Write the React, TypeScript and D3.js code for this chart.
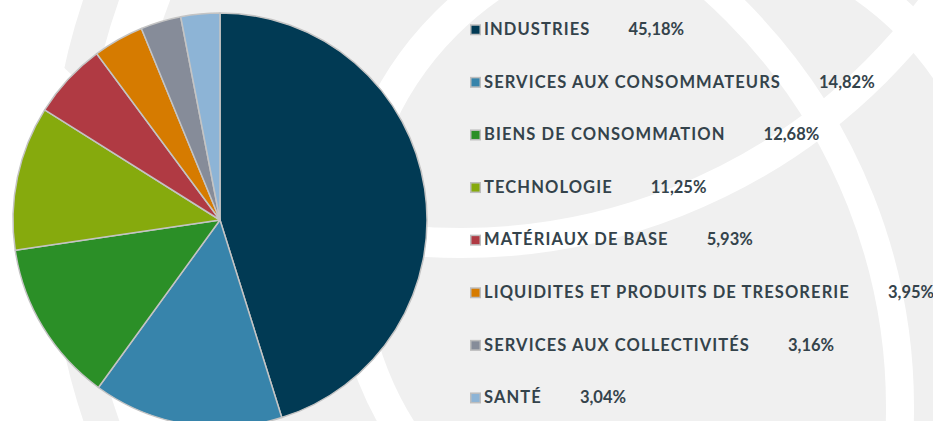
import { useEffect, useRef } from 'react';
import * as d3 from 'd3';

// sectors, in the order they are drawn clockwise from 12 o'clock
const sectors = [
  'INDUSTRIES',
  'SERVICES AUX CONSOMMATEURS',
  'BIENS DE CONSOMMATION',
  'TECHNOLOGIE',
  'MATÉRIAUX DE BASE',
  'LIQUIDITES ET PRODUITS DE TRESORERIE',
  'SERVICES AUX COLLECTIVITÉS',
  'SANTÉ',
];
const weights = [45.18, 14.82, 12.68, 11.25, 5.93, 3.95, 3.16, 3.04];
const weightLabels = ['45,18%', '14,82%', '12,68%', '11,25%', '5,93%', '3,95%', '3,16%', '3,04%'];
const colors = ['#013a54', '#3784ab', '#2b8f27', '#86aa0d', '#b03a43', '#d67b00', '#868c99', '#8db4d6'];

export default function App() {
  const rootRef = useRef<SVGSVGElement | null>(null);

  useEffect(() => {
    const svg = d3.select(rootRef.current);
    if (!rootRef.current) return undefined;
    svg.selectAll('*').remove();

    const width = 933;
    const height = 421;

    // watermark: grey globe with white arcs
    const bg = svg.append('g');
    bg.append('rect').attr('width', width).attr('height', height).attr('fill', '#ffffff');
    bg.append('circle').attr('cx', 713).attr('cy', 210).attr('r', 647)
      .attr('fill', 'none').attr('stroke', '#f0f0f0').attr('stroke-width', 34);
    bg.append('circle').attr('cx', 713).attr('cy', 210).attr('r', 582).attr('fill', '#f0f0f0');
    const arcsWhite = [
      { cx: 340, cy: 407, r: 560, w: 28 },
      { cx: 461, cy: -344, r: 587, w: 30 },
      { cx: 677, cy: 255, r: 327, w: 32 },
    ];
    arcsWhite.forEach(a => {
      bg.append('circle').attr('cx', a.cx).attr('cy', a.cy).attr('r', a.r)
        .attr('fill', 'none').attr('stroke', '#ffffff').attr('stroke-width', a.w);
    });

    // pie
    const radius = 207;
    const pie = d3.pie<number>().sort(null).value(d => d)(weights);
    const arc = d3.arc<d3.PieArcDatum<number>>().innerRadius(0).outerRadius(radius);
    const g = svg.append('g').attr('transform', 'translate(220,220)');
    g.selectAll('path')
      .data(pie)
      .enter()
      .append('path')
      .attr('d', arc)
      .attr('fill', (_, i) => colors[i])
      .attr('stroke', '#c4c4c4')
      .attr('stroke-width', 1.5)
      .attr('stroke-linejoin', 'round');

    // legend
    const row = d3.scaleLinear().domain([0, 1]).range([35, 87.6]);
    const legend = svg.append('g').attr('transform', 'translate(470,0)');
    sectors.forEach((name, i) => {
      const y = row(i);
      legend.append('rect')
        .attr('x', 0.75).attr('y', y - 10).attr('width', 9.5).attr('height', 9.5)
        .attr('fill', colors[i]).attr('stroke', '#bdbdbd').attr('stroke-width', 1.5);
      const t = legend.append('text')
        .attr('x', 14).attr('y', y)
        .attr('fill', '#34434b')
        .attr('font-family', 'Lato, sans-serif')
        .attr('font-weight', 700)
        .attr('font-size', '16.5px');
      t.append('tspan').attr('letter-spacing', '1.1px').text(name);
      t.append('tspan').attr('dx', 38).attr('letter-spacing', '0px').text(weightLabels[i]);
    });

    return () => {
      svg.selectAll('*').remove();
    };
  }, []);

  return (
    <svg
      ref={rootRef}
      width={933}
      height={421}
      style={{ position: 'absolute', left: 0, top: 0, display: 'block' }}
    />
  );
}
